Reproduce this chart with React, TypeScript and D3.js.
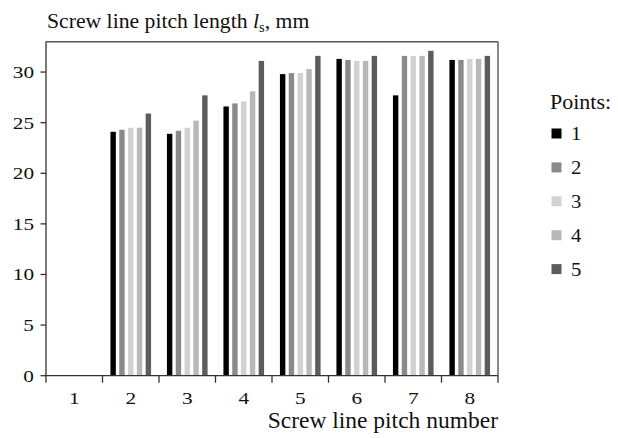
import React from "react";
import * as d3 from "d3";

const categories = ["1", "2", "3", "4", "5", "6", "7", "8"];
const seriesNames = ["1", "2", "3", "4", "5"];
const points1: (number | null)[] = [null, 24.1, 23.9, 26.6, 29.8, 31.3, 27.7, 31.2];
const points2: (number | null)[] = [null, 24.3, 24.2, 26.9, 29.9, 31.2, 31.6, 31.2];
const points3: (number | null)[] = [null, 24.5, 24.5, 27.1, 29.9, 31.1, 31.6, 31.3];
const points4: (number | null)[] = [null, 24.5, 25.2, 28.1, 30.3, 31.1, 31.6, 31.3];
const points5: (number | null)[] = [null, 25.9, 27.7, 31.1, 31.6, 31.6, 32.1, 31.6];
const seriesValues = [points1, points2, points3, points4, points5];
const seriesColors = ["#000000", "#8a8a8a", "#d2d2d2", "#b8b8b8", "#5c5c5c"];
const yTicks = [0, 5, 10, 15, 20, 25, 30];

const W = 618;
const H = 438;
const left = 46;
const right = 498;
const top = 41.7;
const bottom = 375.7;
const font = "'Liberation Serif', 'DejaVu Serif', serif";

export default function App() {
  const x = d3.scaleBand<string>().domain(categories).range([left, right]).paddingInner(0).paddingOuter(0);
  const xs = d3.scaleBand<string>().domain(seriesNames).range([0, x.bandwidth()]).paddingInner(0.386).paddingOuter(0.9);
  const y = d3.scaleLinear().domain([0, 33]).range([bottom, top]);
  const boundaries = [...categories.map((c) => x(c) as number), right];

  return (
    <svg width={W} height={H} style={{ position: "absolute", left: 0, top: 0, background: "#fff" }} fontFamily={font}>
      {/* bars */}
      {seriesValues.map((vals, si) =>
        vals.map((v, ci) =>
          v == null ? null : (
            <rect
              key={`${si}-${ci}`}
              x={(x(categories[ci]) as number) + (xs(seriesNames[si]) as number)}
              y={y(v)}
              width={xs.bandwidth()}
              height={y(0) - y(v)}
              fill={seriesColors[si]}
            />
          )
        )
      )}
      {/* frame */}
      <line x1={left} x2={right} y1={top} y2={top} stroke="#555" strokeWidth={1.6} />
      <line x1={right} x2={right} y1={top} y2={bottom} stroke="#555" strokeWidth={1.4} />
      <line x1={left} x2={left} y1={top} y2={bottom} stroke="#333" strokeWidth={1.3} />
      <line x1={left} x2={right} y1={bottom} y2={bottom} stroke="#333" strokeWidth={1.3} />
      {/* y ticks */}
      {yTicks.map((t) => (
        <g key={t}>
          <line x1={left - 5.5} x2={left} y1={y(t)} y2={y(t)} stroke="#333" strokeWidth={1.3} />
          <text
            transform={`translate(${left - 12},${y(t)}) scale(1.25,1)`}
            dy="0.35em"
            textAnchor="end"
            fontSize={17}
            fill="#111"
          >
            {t}
          </text>
        </g>
      ))}
      {/* x ticks */}
      {boundaries.map((b, i) => (
        <line key={i} x1={b} x2={b} y1={bottom} y2={bottom + 7} stroke="#333" strokeWidth={1.3} />
      ))}
      {categories.map((c) => (
        <text
          key={c}
          transform={`translate(${(x(c) as number) + x.bandwidth() / 2},404) scale(1.25,1)`}
          textAnchor="middle"
          fontSize={17}
          fill="#111"
        >
          {c}
        </text>
      ))}
      {/* titles */}
      <text x={47} y={28} fontSize={21.7} fill="#111">
        Screw line pitch length <tspan fontStyle="italic">l</tspan>
        <tspan fontSize={14.5} dy={4}>s</tspan>
        <tspan dy={-4}>, mm</tspan>
      </text>
      <text x={right} y={428} textAnchor="end" fontSize={23.5} fill="#111">
        Screw line pitch number
      </text>
      {/* legend */}
      <text x={550} y={109} fontSize={22} fill="#111">Points:</text>
      {seriesNames.map((s, i) => {
        const cy = 133.5 + i * 33.9;
        return (
          <g key={s}>
            <rect x={551.5} y={cy - 5} width={10} height={10} fill={seriesColors[i]} />
            <text transform={`translate(571,${cy}) scale(1.15,1)`} dy="0.36em" fontSize={18} fill="#111">
              {s}
            </text>
          </g>
        );
      })}
    </svg>
  );
}
